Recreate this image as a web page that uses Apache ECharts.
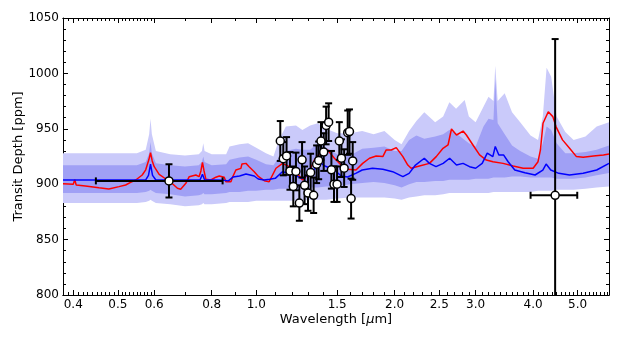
<!DOCTYPE html>
<html>
<head>
<meta charset="utf-8">
<script src="https://cdn.jsdelivr.net/npm/echarts@6/dist/echarts.min.js"></script>
<style>
  html, body { margin: 0; padding: 0; background: #fff; }
  #chart { width: 623px; height: 340px; }
</style>
</head>
<body>
<div id="chart"></div>
<script>
// model envelopes (ppm), sampled on one wavelength grid (um)
const bandWave = [0.38, 0.45, 0.55, 0.575, 0.585, 0.589, 0.593, 0.605, 0.65, 0.70, 0.75, 0.762, 0.767, 0.772,
  0.80, 0.86, 0.875, 0.92, 0.96, 1.00, 1.05, 1.09, 1.12, 1.16, 1.22, 1.26, 1.31, 1.36, 1.42, 1.50, 1.60,
  1.70, 1.80, 1.90, 2.00, 2.07, 2.15, 2.23, 2.32, 2.45, 2.55, 2.63, 2.72, 2.84, 2.90, 3.00, 3.12, 3.20,
  3.28, 3.31, 3.35, 3.47, 3.60, 3.75, 3.95, 4.10, 4.20, 4.28, 4.38, 4.50, 4.70, 4.90, 5.20, 5.50, 5.85];
const outerHi = [928, 928, 928, 931, 945, 959, 945, 930, 927, 926, 927, 930, 937, 930,
  927, 927, 934, 936, 937, 933, 928, 925, 940, 952, 953, 949, 953, 955, 950, 946, 946,
  948, 945, 948, 940, 936, 948, 957, 965, 956, 961, 974, 968, 976, 961, 956, 970, 979,
  975, 1007, 975, 982, 965, 956, 944, 940, 961, 1005, 997, 961, 947, 940, 943, 952, 956];
const innerHi = [917, 917, 917, 920, 928, 938, 928, 919, 917, 916, 917, 920, 925, 920,
  917, 918, 922, 924, 925, 922, 918, 917, 924, 930, 932, 931, 931, 937, 933, 927, 926,
  932, 933, 934, 930, 930, 940, 944, 941, 943, 945, 949, 946, 940, 937, 934, 952, 959,
  958, 995, 955, 945, 935, 930, 925, 923, 937, 952, 949, 937, 928, 928, 929, 931, 935];
const innerLo = [892, 892, 892, 893, 894, 895, 894, 892, 891, 889, 890, 891, 892, 891,
  891, 892, 893, 893, 894, 894, 895, 895, 896, 896, 896, 897, 897, 897, 898, 898, 900,
  901, 902, 901, 899, 897, 900, 902, 902, 903, 903, 904, 904, 904, 904, 905, 905, 905,
  906, 906, 906, 906, 907, 907, 906, 906, 906, 906, 906, 905, 905, 905, 906, 908, 910];
const outerLo = [883, 883, 883, 884, 885, 886, 885, 883, 882, 880, 881, 882, 883, 882,
  882, 883, 884, 884, 884, 885, 885, 885, 885, 885, 885, 885, 886, 886, 886, 887, 888,
  888, 888, 888, 887, 886, 888, 889, 890, 890, 891, 892, 892, 892, 892, 892, 892, 892,
  893, 893, 893, 893, 893, 893, 893, 894, 894, 894, 894, 895, 895, 895, 896, 897, 898];

// red model spectrum
const redWave = [0.38, 0.400, 0.403, 0.406, 0.425, 0.455, 0.478, 0.503, 0.520, 0.533, 0.547, 0.565, 0.575,
  0.584, 0.589, 0.594, 0.600, 0.615, 0.636, 0.652, 0.674, 0.685, 0.703, 0.715, 0.739, 0.751, 0.758, 0.764,
  0.770, 0.777, 0.797, 0.817, 0.831, 0.852, 0.859, 0.881, 0.888, 0.903, 0.926, 0.931, 0.950, 0.965, 0.990,
  1.012, 1.041, 1.067, 1.104, 1.141, 1.180, 1.220, 1.261, 1.294, 1.338, 1.383, 1.430, 1.479, 1.529, 1.581,
  1.648, 1.704, 1.763, 1.823, 1.885, 1.917, 1.966, 2.016, 2.084, 2.136, 2.172, 2.264, 2.380, 2.463, 2.548,
  2.613, 2.658, 2.726, 2.817, 2.864, 2.960, 3.060, 3.165, 3.272, 3.442, 3.620, 3.806, 4.001, 4.100, 4.150,
  4.204, 4.316, 4.416, 4.486, 4.635, 4.802, 4.970, 5.140, 5.410, 5.690, 5.85];
const redDepth = [900.5, 900, 904, 899.3, 898.4, 896.8, 895.7, 897.8, 899.3, 901.7, 903.8, 908.3, 913,
  922, 928.4, 921, 915.8, 908.9, 904.7, 901.7, 896.3, 895.4, 900.8, 906.8, 908.3, 906.8, 912, 919.8,
  912, 904.5, 903.8, 906.3, 907.4, 906.2, 902.3, 902.3, 906.2, 912.8, 914.3, 918.2, 918.8, 915.8, 911.3,
  906.8, 903.2, 902.3, 914.4, 918.8, 915.8, 911.3, 903.8, 908.3, 921.8, 929.4, 930.9, 923.4, 917.3, 913.4,
  912.8, 918.8, 923.4, 925.5, 924.9, 930.9, 930.9, 933, 924.9, 917.3, 914.4, 916.4, 918.8, 924.9, 932.4,
  935.4, 949.8, 944.4, 948, 944.4, 935.4, 926.4, 921.8, 920.3, 918.8, 916.4, 914.4, 914.4, 920.3, 930.9,
  955, 965.4, 961, 952, 940, 932.4, 924.9, 924.3, 925.5, 926.4, 927.3];

// blue model spectrum
const blueWave = [0.38, 0.400, 0.403, 0.407, 0.575, 0.583, 0.589, 0.595, 0.605, 0.755, 0.764, 0.772, 0.85,
  0.87, 0.89, 0.92, 0.95, 0.99, 1.01, 1.04, 1.07, 1.10, 1.14, 1.18, 1.26, 1.31, 1.35, 1.37, 1.41, 1.48,
  1.53, 1.58, 1.65, 1.70, 1.79, 1.885, 1.98, 2.084, 2.15, 2.22, 2.32, 2.38, 2.46, 2.55, 2.634, 2.726,
  2.817, 2.91, 3.00, 3.10, 3.18, 3.27, 3.31, 3.37, 3.45, 3.53, 3.65, 3.84, 4.04, 4.20, 4.27, 4.37, 4.55,
  4.80, 5.14, 5.50, 5.85];
const blueDepth = [903.8, 903.8, 905.5, 903.8, 903.8, 908, 918, 908, 903.8, 904, 909, 904, 903.5,
  903, 906.5, 907.4, 909.2, 907.4, 904.7, 903.8, 904.5, 905.3, 911.3, 909.8, 905.3, 909.8, 915, 920.3, 916.4, 912.8,
  907.4, 906.5, 910, 912.8, 914.4, 913.4, 911.3, 906.8, 909.8, 917.3, 923.4, 918.8, 915.8, 918.8, 923.4, 917.3,
  918.8, 915.8, 914.4, 918.8, 928, 924.9, 934, 926.4, 926.4, 920.3, 912.8, 910.4, 908.3, 912.8, 918.2, 912.8, 909.8,
  908.3, 909.8, 912.8, 918.8];

// observed transit depths
const obsWave = [0.646, 1.128, 1.145, 1.164, 1.184, 1.204, 1.220, 1.241, 1.258, 1.274, 1.296, 1.313, 1.333,
  1.353, 1.367, 1.383, 1.402, 1.419, 1.437, 1.457, 1.476, 1.499, 1.516, 1.532, 1.553, 1.581, 1.595, 1.608,
  1.621, 4.467];
const obsDepth = [903, 939, 923, 925.5, 912, 898, 911.5, 883, 922, 899, 892, 910.5, 890,
  918, 921.5, 939, 929, 953, 956, 913, 900, 900, 939, 923.5, 914.5, 946.5, 947.5, 887,
  921, 890];
const obsErr = [15, 18, 15, 17, 17, 18, 17, 16, 16, 17, 16, 17, 16,
  17, 17, 17, 17, 17, 17, 17, 16, 16, 17, 17, 17, 20, 20, 18,
  17, 141];
const obsWaveLo = [0.448, null, null, null, null, null, null, null, null, null, null, null, null,
  null, null, null, null, null, null, null, null, null, null, null, null, null, null, null,
  null, 3.95];
const obsWaveHi = [0.845, null, null, null, null, null, null, null, null, null, null, null, null,
  null, null, null, null, null, null, null, null, null, null, null, null, null, null, null,
  null, 4.99];

const xLabels = [0.4, 0.5, 0.6, 0.8, 1.0, 1.5, 2.0, 2.5, 3.0, 4.0, 5.0];

const lg = Math.log10;
const font = 'DejaVu Sans';

// minor tick positions
const minorTicks = [];
for (let k = 38; k <= 60; k++) if (k % 10 !== 0) minorTicks.push(k / 100);
for (let k = 7; k <= 58; k += 1) {
  const v = k / 10;
  if (xLabels.indexOf(v) < 0) minorTicks.push(v);
}

const chart = echarts.init(document.getElementById('chart'), null, {renderer: 'canvas'});

function xAxisDef(position, ticks, len, withLabels) {
  const ax = {
    type: 'value',
    min: lg(0.38),
    max: lg(5.85),
    position: position,
    axisLine: {show: true, onZero: false, lineStyle: {color: '#000', width: 1}},
    axisTick: {show: true, inside: true, length: len, customValues: ticks.map(lg),
      lineStyle: {color: '#000', width: 1}},
    axisLabel: {show: false},
    splitLine: {show: false}
  };
  if (withLabels) {
    ax.axisLabel = {
      show: true, customValues: xLabels.map(lg), margin: 4,
      color: '#000', fontFamily: font, fontSize: 12,
      formatter: v => Math.pow(10, v).toFixed(1)
    };
    ax.name = 'Wavelength [{i|\u03bc}m]';
    ax.nameLocation = 'middle';
    ax.nameGap = 18;
    ax.nameMoveOverlap = false;
    ax.nameTextStyle = {color: '#000', fontFamily: font, fontSize: 13,
      rich: {i: {fontStyle: 'italic', fontFamily: font, fontSize: 13, color: '#000'}}};
  }
  return ax;
}

function yAxisDef(position, withLabels) {
  return {
    type: 'value', min: 800, max: 1050, interval: 50, position: position,
    axisLine: {show: true, onZero: false, lineStyle: {color: '#000', width: 1}},
    axisTick: {show: true, inside: true, length: 5, lineStyle: {color: '#000'}},
    minorTick: {show: true, splitNumber: 5, length: 3, lineStyle: {color: '#000'}},
    axisLabel: withLabels ? {color: '#000', fontFamily: font, fontSize: 12, margin: 4,
      formatter: v => String(v)} : {show: false},
    splitLine: {show: false},
    name: withLabels ? 'Transit Depth [ppm]' : '',
    nameLocation: 'middle',
    nameGap: 38,
    nameMoveOverlap: false,
    nameTextStyle: {color: '#000', fontFamily: font, fontSize: 13}
  };
}

function bandSeries(hi, lo, color) {
  return {
    type: 'custom', silent: true, z: 1, clip: true,
    data: bandWave.map((w, i) => [lg(w), hi[i], lo[i]]),
    encode: {x: 0, y: [1, 2]},
    renderItem: function (params, api) {
      if (params.dataIndex !== 0) return null;
      const top = bandWave.map((w, i) => api.coord([lg(w), hi[i]]));
      const bot = bandWave.map((w, i) => api.coord([lg(w), lo[i]])).reverse();
      return {type: 'polygon', shape: {points: top.concat(bot)}, style: {fill: color}};
    }
  };
}

function lineSeries(wave, depth, color) {
  return {
    type: 'line', z: 2, showSymbol: false, silent: true,
    data: wave.map((w, i) => [lg(w), depth[i]]),
    lineStyle: {color: color, width: 1.5}
  };
}

const obsData = obsWave.map((w, i) => [
  lg(w), obsDepth[i], obsErr[i],
  obsWaveLo[i] == null ? NaN : lg(obsWaveLo[i]),
  obsWaveHi[i] == null ? NaN : lg(obsWaveHi[i])
]);

chart.setOption({
  animation: false,
  backgroundColor: '#fff',
  grid: {left: 63, right: 14, top: 18, bottom: 45, containLabel: false, outerBoundsMode: 'none'},
  xAxis: [
    xAxisDef('bottom', xLabels, 5, true),
    xAxisDef('bottom', minorTicks, 3, false),
    xAxisDef('top', xLabels, 5, false),
    xAxisDef('top', minorTicks, 3, false)
  ],
  yAxis: [yAxisDef('left', true), yAxisDef('right', false)],
  series: [
    bandSeries(outerHi, outerLo, '#cacafa'),
    bandSeries(innerHi, innerLo, '#a0a0f5'),
    lineSeries(redWave, redDepth, '#ff0000'),
    lineSeries(blueWave, blueDepth, '#0000ff'),
    {
      type: 'custom', z: 3, clip: true, silent: true,
      data: obsData,
      encode: {x: 0, y: 1},
      renderItem: function (params, api) {
        const x = api.value(0), y = api.value(1), e = api.value(2);
        const xl = api.value(3), xh = api.value(4);
        const top = api.coord([x, y + e]);
        const bot = api.coord([x, y - e]);
        const st = {stroke: '#000', lineWidth: 2};
        const cap = 3.5;
        const kids = [
          {type: 'line', shape: {x1: top[0], y1: top[1], x2: bot[0], y2: bot[1]}, style: st},
          {type: 'line', shape: {x1: top[0] - cap, y1: top[1], x2: top[0] + cap, y2: top[1]}, style: st},
          {type: 'line', shape: {x1: bot[0] - cap, y1: bot[1], x2: bot[0] + cap, y2: bot[1]}, style: st}
        ];
        if (xl === xl) {
          const l = api.coord([xl, y]);
          const r = api.coord([xh, y]);
          kids.push(
            {type: 'line', shape: {x1: l[0], y1: l[1], x2: r[0], y2: r[1]}, style: st},
            {type: 'line', shape: {x1: l[0], y1: l[1] - cap, x2: l[0], y2: l[1] + cap}, style: st},
            {type: 'line', shape: {x1: r[0], y1: r[1] - cap, x2: r[0], y2: r[1] + cap}, style: st}
          );
        }
        return {type: 'group', children: kids};
      }
    },
    {
      type: 'scatter', z: 4, silent: true,
      data: obsWave.map((w, i) => [lg(w), obsDepth[i]]),
      symbol: 'circle', symbolSize: 8,
      itemStyle: {color: '#fff', borderColor: '#000', borderWidth: 1.5, opacity: 1}
    }
  ]
});
</script>
</body>
</html>
